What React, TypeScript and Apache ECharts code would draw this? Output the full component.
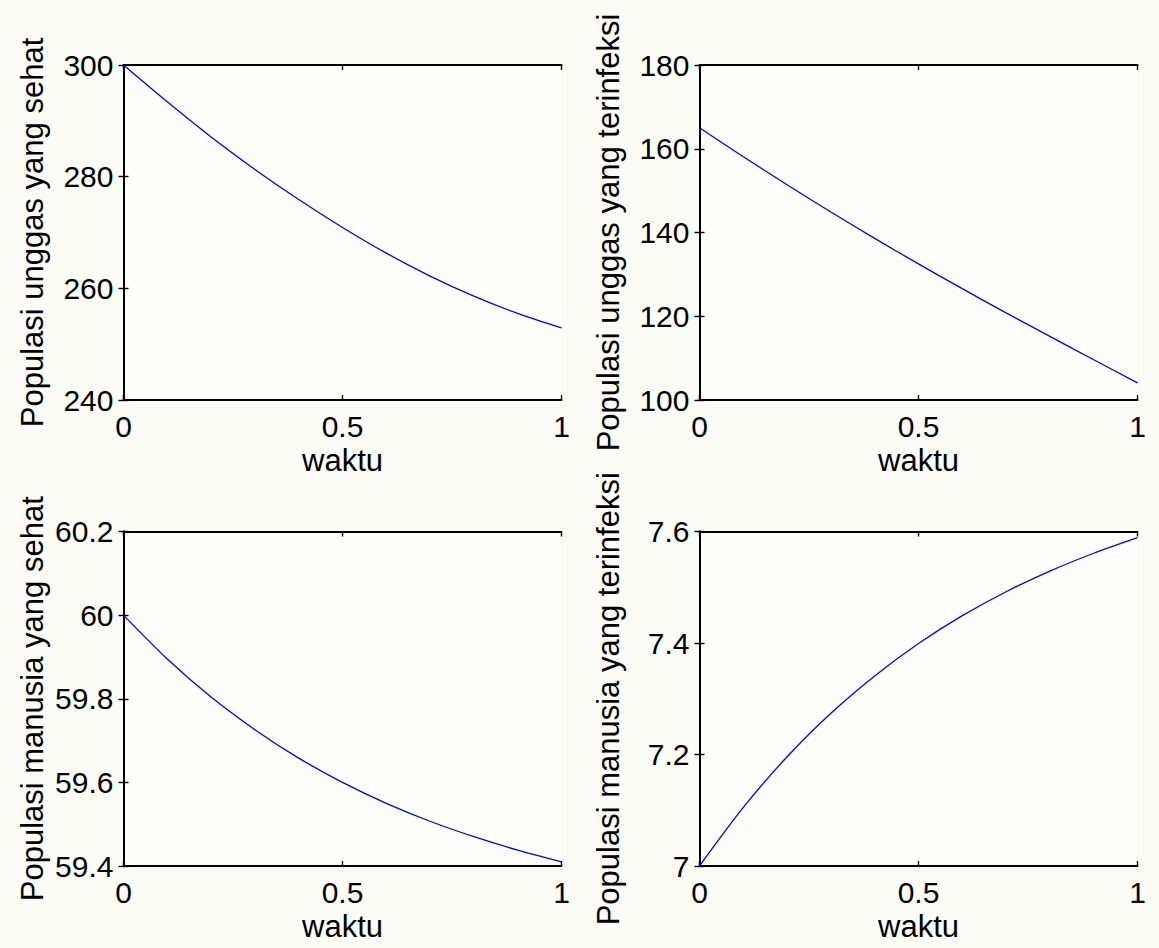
import React, { useEffect, useRef } from "react";
import * as echarts from "echarts";

const waktu = [0, 0.1, 0.2, 0.3, 0.4, 0.5, 0.6, 0.7, 0.8, 0.9, 1];
const unggasSehat = [300, 293.4, 287.1, 281.3, 275.9, 270.9, 266.3, 262.2, 258.6, 255.5, 252.9];
const unggasTerinfeksi = [165, 158.1, 151.4, 144.9, 138.6, 132.5, 126.6, 120.8, 115.2, 109.6, 104.1];
const manusiaSehat = [60, 59.895, 59.804, 59.726, 59.658, 59.6, 59.55, 59.507, 59.47, 59.438, 59.41];
const manusiaTerinfeksi = [7, 7.105, 7.196, 7.274, 7.341, 7.399, 7.449, 7.492, 7.529, 7.561, 7.589];

const yLabels = [
  "Populasi unggas yang sehat",
  "Populasi unggas yang terinfeksi",
  "Populasi manusia yang sehat",
  "Populasi manusia yang terinfeksi",
];
const xLabel = "waktu";
const yRanges = [
  [240, 300, 20],
  [100, 180, 20],
  [59.4, 60.2, 0.2],
  [7, 7.6, 0.2],
];
const seriesValues = [unggasSehat, unggasTerinfeksi, manusiaSehat, manusiaTerinfeksi];

const FONT = '"Liberation Sans", Arial, Helvetica, sans-serif';
const FS = 30;
const NFS = 31;

export default function App() {
  const ref = useRef<HTMLDivElement>(null);
  useEffect(() => {
    document.body.style.margin = "0";
    document.body.style.background = "#fbfbf6";
    const chart = echarts.init(ref.current!, null, { renderer: "svg" });
    const grids = [
      { left: 123.5, top: 65, width: 438, height: 335 },
      { left: 699.5, top: 65, width: 438, height: 335 },
      { left: 123.5, top: 531.5, width: 438, height: 334.5 },
      { left: 699.5, top: 531.5, width: 438, height: 334.5 },
    ];
    const axisLine = { show: true, lineStyle: { color: "#000", width: 2 } };
    const axisTick = { show: true, inside: true, length: 5, lineStyle: { color: "#000", width: 1.4 } };
    const xAxis: any[] = [];
    const yAxis: any[] = [];
    const series: any[] = [];
    grids.forEach((g, i) => {
      xAxis.push({
        type: "value", gridIndex: i, position: "bottom", min: 0, max: 1, interval: 0.5,
        axisLine, axisTick, splitLine: { show: false },
        axisLabel: { color: "#000", fontSize: FS, fontFamily: FONT, margin: 11 },
        name: xLabel, nameLocation: "middle", nameGap: 45,
        nameTextStyle: { color: "#000", fontSize: NFS, fontFamily: FONT },
      });
      xAxis.push({
        type: "value", gridIndex: i, position: "top", min: 0, max: 1, interval: 0.5,
        axisLine, axisTick, splitLine: { show: false }, axisLabel: { show: false },
      });
      const [mn, mx, iv] = yRanges[i];
      yAxis.push({
        type: "value", gridIndex: i, position: "left", min: mn, max: mx, interval: iv,
        axisLine, axisTick, splitLine: { show: false },
        axisLabel: { color: "#000", fontSize: FS, fontFamily: FONT, margin: 10 },
        name: yLabels[i], nameLocation: "middle", nameGap: 76,
        nameTextStyle: { color: "#000", fontSize: NFS, fontFamily: FONT },
      });
      yAxis.push({
        type: "value", gridIndex: i, position: "right", min: mn, max: mx, interval: iv,
        axisLine, axisTick, splitLine: { show: false }, axisLabel: { show: false },
      });
      series.push({
        type: "line", xAxisIndex: i * 2, yAxisIndex: i * 2,
        data: waktu.map((t, k) => [t, seriesValues[i][k]]),
        showSymbol: false, smooth: 0.3,
        lineStyle: { color: "#0000ff", width: 1.3 },
      });
    });
    chart.setOption({
      animation: false,
      backgroundColor: "#fbfbf6",
      grid: grids.map((g) => ({ ...g, containLabel: false, show: true, backgroundColor: "#fdfdf9", borderWidth: 0 })),
      xAxis,
      yAxis,
      series,
    });
    return () => chart.dispose();
  }, []);
  return <div ref={ref} style={{ width: 1159, height: 948 }} />;
}
